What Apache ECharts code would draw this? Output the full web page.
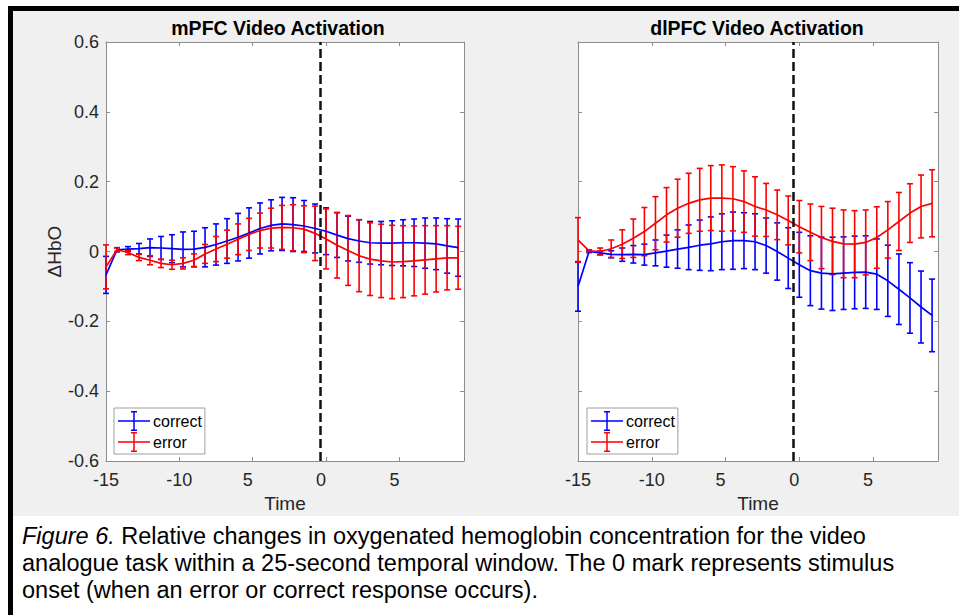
<!DOCTYPE html>
<html>
<head>
<meta charset="utf-8">
<script src="https://cdn.jsdelivr.net/npm/echarts@6/dist/echarts.min.js"></script>
<style>
  html, body { margin: 0; padding: 0; background: #fff; }
  #wrap { position: relative; width: 959px; height: 615px; overflow: hidden; }
  #figbg { position: absolute; left: 13px; top: 11px; width: 946px; height: 505px; background: #f0f0f0; }
  #bordertop { position: absolute; left: 8px; top: 6px; width: 951px; height: 5px; background: #000; }
  #borderleft { position: absolute; left: 8px; top: 6px; width: 5px; height: 609px; background: #000; }
  #chart { position: absolute; left: 0; top: 0; width: 959px; height: 615px; }
</style>
</head>
<body>
<div id="wrap">
  <div id="figbg"></div>
  <div id="bordertop"></div>
  <div id="borderleft"></div>
  <div id="chart"></div>
</div>
<script>
  // time axis (s), one sample every 0.75 s
  var times = [-15, -14.25, -13.5, -12.75, -12, -11.25, -10.5, -9.75, -9, -8.25, -7.5,
    -6.75, -6, -5.25, -4.5, -3.75, -3, -2.25, -1.5, -0.75, 0, 0.75, 1.5, 2.25, 3,
    3.75, 4.5, 5.25, 6, 6.75, 7.5, 8.25, 9];

  // mPFC
  var mpfcCorrectMean = [-0.067, 0.005, 0.007, 0.008, 0.011, 0.010, 0.008, 0.006, 0.007, 0.012, 0.020,
    0.030, 0.041, 0.053, 0.066, 0.075, 0.079, 0.077, 0.073, 0.066, 0.058, 0.047, 0.037, 0.030, 0.025,
    0.024, 0.024, 0.025, 0.025, 0.024, 0.022, 0.016, 0.011];
  var mpfcCorrectErr = [0.053, 0.006, 0.007, 0.015, 0.025, 0.033, 0.040, 0.050, 0.051, 0.056, 0.059,
    0.064, 0.068, 0.072, 0.073, 0.073, 0.076, 0.077, 0.073, 0.070, 0.067, 0.064, 0.064, 0.061, 0.061,
    0.062, 0.064, 0.066, 0.068, 0.072, 0.074, 0.078, 0.082];
  var mpfcErrorMean = [-0.044, 0.005, -0.003, -0.017, -0.025, -0.034, -0.038, -0.034, -0.025, -0.007, 0.007,
    0.021, 0.035, 0.049, 0.060, 0.067, 0.069, 0.068, 0.064, 0.052, 0.036, 0.018, 0.003, -0.012, -0.022,
    -0.027, -0.030, -0.029, -0.027, -0.024, -0.021, -0.018, -0.018];
  var mpfcErrorErr = [0.063, 0.005, 0.006, 0.009, 0.013, 0.012, 0.013, 0.016, 0.018, 0.027, 0.036,
    0.040, 0.044, 0.046, 0.050, 0.057, 0.063, 0.066, 0.067, 0.078, 0.086, 0.094, 0.100, 0.103, 0.104,
    0.105, 0.105, 0.103, 0.100, 0.098, 0.095, 0.092, 0.090];

  // dlPFC
  var dlpfcCorrectMean = [-0.100, 0.000, -0.004, -0.008, -0.009, -0.008, -0.009, -0.004, 0.001, 0.007, 0.012,
    0.018, 0.022, 0.028, 0.031, 0.031, 0.028, 0.017, 0.000, -0.019, -0.038, -0.055, -0.062, -0.064, -0.062,
    -0.060, -0.059, -0.065, -0.084, -0.108, -0.133, -0.159, -0.183];
  var dlpfcCorrectErr = [0.071, 0.003, 0.005, 0.010, 0.019, 0.025, 0.030, 0.037, 0.046, 0.055, 0.064,
    0.072, 0.077, 0.080, 0.082, 0.080, 0.080, 0.079, 0.082, 0.087, 0.093, 0.100, 0.103, 0.105, 0.104,
    0.104, 0.104, 0.101, 0.102, 0.101, 0.101, 0.103, 0.104];
  var dlpfcErrorMean = [0.033, 0.002, 0.000, 0.008, 0.021, 0.038, 0.057, 0.081, 0.105, 0.124, 0.138,
    0.148, 0.153, 0.153, 0.151, 0.143, 0.129, 0.119, 0.105, 0.089, 0.071, 0.055, 0.040, 0.029, 0.022,
    0.021, 0.026, 0.040, 0.062, 0.086, 0.110, 0.129, 0.138];
  var dlpfcErrorErr = [0.064, 0.003, 0.010, 0.025, 0.041, 0.055, 0.069, 0.076, 0.078, 0.083, 0.086,
    0.090, 0.093, 0.095, 0.092, 0.088, 0.085, 0.076, 0.071, 0.070, 0.075, 0.081, 0.089, 0.095, 0.097,
    0.096, 0.093, 0.088, 0.081, 0.083, 0.084, 0.090, 0.096];

  var xTickValues = [-15, -10, -5, 0, 5];
  var xTickLabels = ['-15', '-10', '5', '0', '5'];
  var stimulusLine = -0.375;

  var FONT = '"Liberation Sans", Arial, Helvetica, sans-serif';
  var BLUE = '#0000ff';
  var RED = '#ff0000';
  var AXIS = '#8c8c8c';
  var TEXT = '#262626';

  var legendIcon = 'path://M0,9.25H32V10.75H0Z M15.25,0H16.75V20H15.25Z M13,0H19V1.5H13Z M13,18.5H19V20H13Z';

  var myChart = echarts.init(document.getElementById('chart'), null, {
    renderer: 'svg'
  });

  function xAxisFor(gridIndex, onTop) {
    return {
      type: 'value', gridIndex: gridIndex, position: onTop ? 'top' : 'bottom',
      min: -15, max: 9.4, interval: 5,
      name: onTop ? '' : 'Time',
      nameLocation: 'middle', nameGap: 31,
      nameTextStyle: { fontSize: 19, fontFamily: FONT, color: TEXT },
      splitLine: { show: false },
      axisLine: { show: true, onZero: false, lineStyle: { color: AXIS, width: 1 } },
      axisTick: { show: true, inside: true, length: 4, lineStyle: { color: AXIS } },
      axisLabel: {
        show: !onTop, margin: 10, fontSize: 18, fontFamily: FONT, color: TEXT,
        showMaxLabel: false,
        formatter: function (v) {
          var i = xTickValues.indexOf(v);
          if (i < 0) return '';
          return i >= 2 ? '{s|' + xTickLabels[i] + '}' : xTickLabels[i];
        },
        rich: { s: { fontSize: 18, fontFamily: FONT, color: TEXT, padding: [0, 10, 0, 0] } }
      }
    };
  }

  function yAxisFor(gridIndex, onRight, labels) {
    return {
      type: 'value', gridIndex: gridIndex, position: onRight ? 'right' : 'left',
      min: -0.6, max: 0.6, interval: 0.2,
      name: labels ? 'ΔHbO' : '',
      nameLocation: 'middle', nameGap: 42,
      nameTextStyle: { fontSize: 19, fontFamily: FONT, color: TEXT },
      splitLine: { show: false },
      axisLine: { show: true, onZero: false, lineStyle: { color: AXIS, width: 1 } },
      axisTick: { show: true, inside: true, length: 4, lineStyle: { color: AXIS } },
      axisLabel: { show: labels, margin: 7, fontSize: 18, fontFamily: FONT, color: TEXT }
    };
  }

  function barSeries(name, color, axisIdx, means, errs) {
    return {
      name: name,
      type: 'custom',
      xAxisIndex: axisIdx, yAxisIndex: axisIdx,
      data: times.map(function (t, i) { return [t, means[i], errs[i]]; }),
      encode: { x: 0, y: 1 },
      itemStyle: { color: color },
      animation: false,
      silent: true,
      renderItem: function (params, api) {
        var x = api.value(0), m = api.value(1), e = api.value(2);
        var top = api.coord([x, m + e]);
        var bot = api.coord([x, m - e]);
        var st = { stroke: color, lineWidth: 1.6 };
        var cap = 3;
        return {
          type: 'group',
          children: [
            { type: 'line', shape: { x1: top[0], y1: top[1], x2: bot[0], y2: bot[1] }, style: st },
            { type: 'line', shape: { x1: top[0] - cap, y1: top[1], x2: top[0] + cap, y2: top[1] }, style: st },
            { type: 'line', shape: { x1: bot[0] - cap, y1: bot[1], x2: bot[0] + cap, y2: bot[1] }, style: st }
          ]
        };
      }
    };
  }

  function meanSeries(name, color, axisIdx, means, withMarker) {
    var s = {
      name: name,
      type: 'line',
      xAxisIndex: axisIdx, yAxisIndex: axisIdx,
      data: times.map(function (t, i) { return [t, means[i]]; }),
      showSymbol: false,
      symbol: 'none',
      animation: false,
      silent: true,
      itemStyle: { color: color },
      lineStyle: { color: color, width: 1.7 }
    };
    if (withMarker) {
      s.markLine = {
        silent: true,
        symbol: ['none', 'none'],
        label: { show: false },
        animation: false,
        lineStyle: { color: '#111', width: 2.5, type: [9, 4] },
        data: [{ xAxis: stimulusLine }]
      };
    }
    return s;
  }

  function legendFor(left) {
    return {
      left: left, top: 408,
      orient: 'vertical',
      selectedMode: false,
      data: [
        { name: 'correct', icon: legendIcon, itemStyle: { color: BLUE } },
        { name: 'error', icon: legendIcon, itemStyle: { color: RED } }
      ],
      itemWidth: 32, itemHeight: 20, itemGap: 1,
      padding: [3, 3, 2, 4],
      backgroundColor: '#fff',
      borderColor: '#a0a0a0', borderWidth: 1, borderRadius: 0,
      itemStyle: { borderWidth: 0 },
      textStyle: { fontSize: 16, fontFamily: FONT, color: '#000', padding: [0, 0, 0, -2] }
    };
  }

  var option = {
    backgroundColor: 'transparent',
    grid: [
      { left: 106, right: 495, top: 42, bottom: 154, show: true, backgroundColor: '#fff', borderWidth: 0 },
      { left: 578, right: 21, top: 42, bottom: 154, show: true, backgroundColor: '#fff', borderWidth: 0 }
    ],
    xAxis: [xAxisFor(0, false), xAxisFor(1, false), xAxisFor(0, true), xAxisFor(1, true)],
    yAxis: [yAxisFor(0, false, true), yAxisFor(1, false, false), yAxisFor(0, true, false), yAxisFor(1, true, false)],
    legend: [legendFor(114), legendFor(587)],
    graphic: [
      { type: 'text', x: 278, y: 28, silent: true,
        style: { text: 'mPFC Video Activation', font: 'bold 19.5px ' + FONT, fill: '#000', align: 'center', verticalAlign: 'middle' } },
      { type: 'text', x: 757, y: 28, silent: true,
        style: { text: 'dlPFC Video Activation', font: 'bold 19.5px ' + FONT, fill: '#000', align: 'center', verticalAlign: 'middle' } },
      { type: 'text', x: 22, y: 536, silent: true,
        style: {
          text: '{i|Figure 6.} Relative changes in oxygenated hemoglobin concentration for the video',
          font: '23.5px ' + FONT, fill: '#000', verticalAlign: 'middle',
          rich: { i: { fontStyle: 'italic', fontSize: 23.5, fontFamily: FONT, fill: '#000' } }
        } },
      { type: 'text', x: 22, y: 563, silent: true,
        style: { text: 'analogue task within a 25-second temporal window. The 0 mark represents stimulus',
          font: '23.5px ' + FONT, fill: '#000', verticalAlign: 'middle' } },
      { type: 'text', x: 22, y: 590, silent: true,
        style: { text: 'onset (when an error or correct response occurs).',
          font: '23.5px ' + FONT, fill: '#000', verticalAlign: 'middle' } }
    ],
    series: [
      barSeries('correct', BLUE, 0, mpfcCorrectMean, mpfcCorrectErr),
      meanSeries('correct', BLUE, 0, mpfcCorrectMean, false),
      barSeries('error', RED, 0, mpfcErrorMean, mpfcErrorErr),
      meanSeries('error', RED, 0, mpfcErrorMean, true),
      barSeries('correct', BLUE, 1, dlpfcCorrectMean, dlpfcCorrectErr),
      meanSeries('correct', BLUE, 1, dlpfcCorrectMean, false),
      barSeries('error', RED, 1, dlpfcErrorMean, dlpfcErrorErr),
      meanSeries('error', RED, 1, dlpfcErrorMean, true)
    ]
  };

  if (option && typeof option === 'object') {
    myChart.setOption(option);
  }

  window.addEventListener('resize', myChart.resize);
</script>
</body>
</html>
